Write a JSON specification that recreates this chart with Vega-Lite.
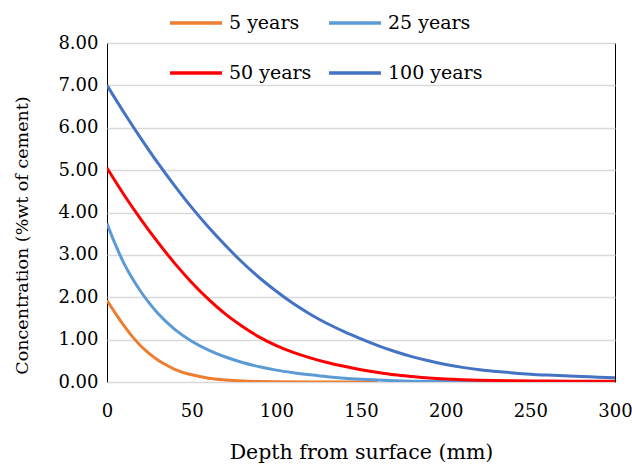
{
  "$schema": "https://vega.github.io/schema/vega-lite/v6.json",
  "autosize": "none",
  "width": 508,
  "height": 339,
  "padding": {"left": 107, "top": 43, "right": 17, "bottom": 82},
  "background": "white",
  "config": {
    "view": {"stroke": "black", "strokeWidth": 1},
    "font": "DejaVu Serif",
    "axis": {"labelFont": "DejaVu Serif", "titleFont": "DejaVu Serif"},
    "legend": {"labelFont": "DejaVu Serif"}
  },
  "data": {"values": [
    {"s":"5 years","d":0,"c":1.93},{"s":"5 years","d":5,"c":1.62},{"s":"5 years","d":10,"c":1.33},{"s":"5 years","d":15,"c":1.07},{"s":"5 years","d":20,"c":0.85},{"s":"5 years","d":25,"c":0.67},{"s":"5 years","d":30,"c":0.52},{"s":"5 years","d":35,"c":0.40},{"s":"5 years","d":40,"c":0.30},{"s":"5 years","d":50,"c":0.17},{"s":"5 years","d":60,"c":0.09},{"s":"5 years","d":70,"c":0.05},{"s":"5 years","d":80,"c":0.025},{"s":"5 years","d":90,"c":0.012},{"s":"5 years","d":100,"c":0.006},{"s":"5 years","d":120,"c":0.002},{"s":"5 years","d":160,"c":0.0},
    {"s":"25 years","d":0,"c":3.74},{"s":"25 years","d":5,"c":3.24},{"s":"25 years","d":10,"c":2.80},{"s":"25 years","d":15,"c":2.44},{"s":"25 years","d":20,"c":2.13},{"s":"25 years","d":25,"c":1.86},{"s":"25 years","d":30,"c":1.62},{"s":"25 years","d":40,"c":1.24},{"s":"25 years","d":50,"c":0.96},{"s":"25 years","d":60,"c":0.75},{"s":"25 years","d":70,"c":0.59},{"s":"25 years","d":80,"c":0.46},{"s":"25 years","d":90,"c":0.36},{"s":"25 years","d":100,"c":0.28},{"s":"25 years","d":110,"c":0.22},{"s":"25 years","d":120,"c":0.17},{"s":"25 years","d":130,"c":0.125},{"s":"25 years","d":140,"c":0.09},{"s":"25 years","d":150,"c":0.065},{"s":"25 years","d":160,"c":0.045},{"s":"25 years","d":170,"c":0.03},{"s":"25 years","d":180,"c":0.02},{"s":"25 years","d":200,"c":0.01},{"s":"25 years","d":220,"c":0.005},{"s":"25 years","d":240,"c":0.0},
    {"s":"50 years","d":0,"c":5.05},{"s":"50 years","d":10,"c":4.42},{"s":"50 years","d":20,"c":3.84},{"s":"50 years","d":30,"c":3.30},{"s":"50 years","d":40,"c":2.80},{"s":"50 years","d":50,"c":2.35},{"s":"50 years","d":60,"c":1.95},{"s":"50 years","d":70,"c":1.60},{"s":"50 years","d":80,"c":1.31},{"s":"50 years","d":90,"c":1.06},{"s":"50 years","d":100,"c":0.86},{"s":"50 years","d":110,"c":0.70},{"s":"50 years","d":120,"c":0.57},{"s":"50 years","d":130,"c":0.46},{"s":"50 years","d":140,"c":0.37},{"s":"50 years","d":150,"c":0.29},{"s":"50 years","d":160,"c":0.225},{"s":"50 years","d":170,"c":0.17},{"s":"50 years","d":180,"c":0.13},{"s":"50 years","d":190,"c":0.095},{"s":"50 years","d":200,"c":0.07},{"s":"50 years","d":210,"c":0.053},{"s":"50 years","d":220,"c":0.042},{"s":"50 years","d":240,"c":0.03},{"s":"50 years","d":260,"c":0.025},{"s":"50 years","d":280,"c":0.02},{"s":"50 years","d":300,"c":0.02},
    {"s":"100 years","d":0,"c":7.0},{"s":"100 years","d":10,"c":6.36},{"s":"100 years","d":20,"c":5.75},{"s":"100 years","d":30,"c":5.17},{"s":"100 years","d":40,"c":4.63},{"s":"100 years","d":50,"c":4.12},{"s":"100 years","d":60,"c":3.65},{"s":"100 years","d":70,"c":3.22},{"s":"100 years","d":80,"c":2.82},{"s":"100 years","d":90,"c":2.46},{"s":"100 years","d":100,"c":2.14},{"s":"100 years","d":110,"c":1.85},{"s":"100 years","d":120,"c":1.60},{"s":"100 years","d":130,"c":1.38},{"s":"100 years","d":140,"c":1.19},{"s":"100 years","d":150,"c":1.02},{"s":"100 years","d":160,"c":0.86},{"s":"100 years","d":170,"c":0.72},{"s":"100 years","d":180,"c":0.60},{"s":"100 years","d":190,"c":0.50},{"s":"100 years","d":200,"c":0.415},{"s":"100 years","d":210,"c":0.345},{"s":"100 years","d":220,"c":0.29},{"s":"100 years","d":230,"c":0.25},{"s":"100 years","d":240,"c":0.215},{"s":"100 years","d":250,"c":0.185},{"s":"100 years","d":260,"c":0.163},{"s":"100 years","d":270,"c":0.145},{"s":"100 years","d":280,"c":0.13},{"s":"100 years","d":290,"c":0.115},{"s":"100 years","d":300,"c":0.10}
  ]},
  "mark": {"type": "line", "strokeWidth": 3, "interpolate": "monotone", "clip": true},
  "encoding": {
    "x": {
      "field": "d", "type": "quantitative",
      "scale": {"domain": [0, 300], "nice": false, "zero": true},
      "axis": {
        "title": "Depth from surface (mm)", "values": [0,50,100,150,200,250,300],
        "grid": false, "ticks": false, "domain": false, "labelFlush": false,
        "labelFontSize": 18, "labelPadding": 20, "labelColor": "black",
        "titleFontSize": 20.5, "titleFontWeight": "normal", "titleColor": "black", "titlePadding": 22
      }
    },
    "y": {
      "field": "c", "type": "quantitative",
      "scale": {"domain": [0, 8], "nice": false},
      "axis": {
        "title": "Concentration  (%wt of cement)", "values": [0,1,2,3,4,5,6,7,8], "format": ".2f",
        "grid": true, "gridColor": "#D9D9D9", "gridWidth": 1.3, "ticks": false, "domain": false,
        "labelFontSize": 18, "labelPadding": 9, "labelColor": "black",
        "titleFontSize": 17.5, "titleFontWeight": "normal", "titleColor": "black",
        "titleX": -85, "titleY": 192, "titleBaseline": "middle"
      }
    },
    "color": {
      "field": "s", "type": "nominal",
      "scale": {"domain": ["5 years","25 years","50 years","100 years"], "range": ["#ED7D31","#5B9BD5","#FF0000","#4472C4"]},
      "legend": {
        "title": null, "orient": "none", "legendX": 61, "legendY": -48, "columns": 2,
        "direction": "horizontal",
        "symbolType": "stroke", "symbolSize": 2704, "symbolStrokeWidth": 3.5,
        "labelFontSize": 19, "labelColor": "black", "labelOffset": 5,
        "rowPadding": 12, "columnPadding": 10
      }
    }
  }
}
